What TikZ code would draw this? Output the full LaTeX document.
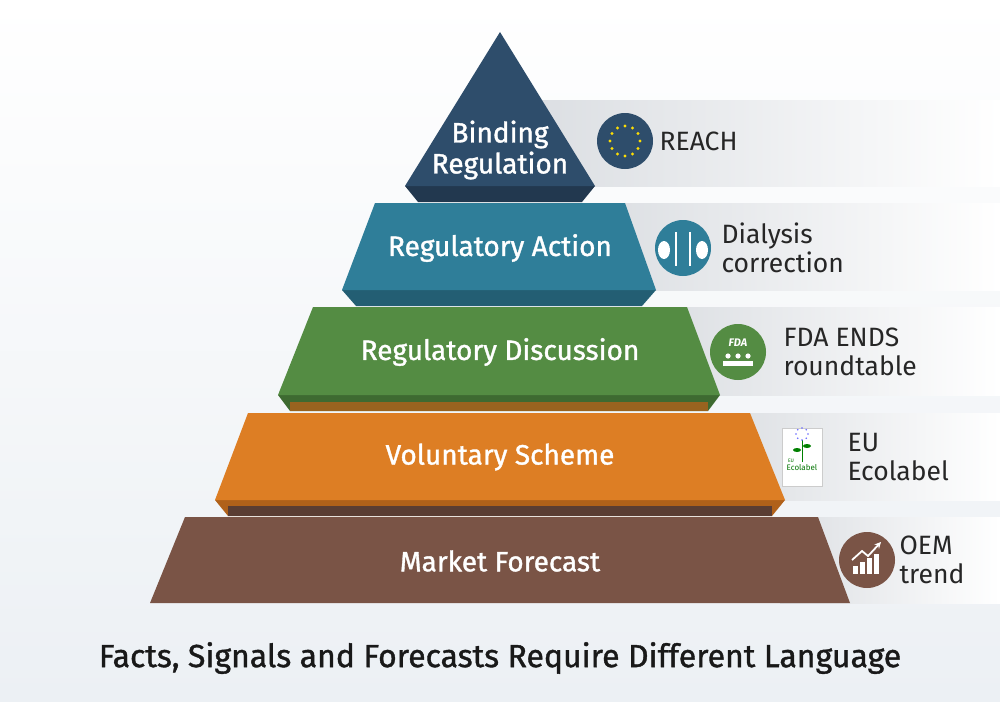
\documentclass[tikz,border=0pt]{standalone}
\usepackage{fontspec}
\setmainfont{Fira Sans}
\newfontfamily\medf{Fira Sans}[AutoFakeBold=1.2]
\usetikzlibrary{shadings}
\definecolor{cA}{HTML}{2E4D6B}\definecolor{cAd}{HTML}{22384F}
\definecolor{cB}{HTML}{2F7E99}\definecolor{cBd}{HTML}{235E73}
\definecolor{cC}{HTML}{548C43}\definecolor{cCd}{HTML}{3E6A31}
\definecolor{cD}{HTML}{DD7E24}\definecolor{cDd}{HTML}{B0611A}
\definecolor{cE}{HTML}{7A5446}\definecolor{cEd}{HTML}{5A3D33}
\definecolor{band}{HTML}{DCDFE3}
\tikzset{
 lay/.style={font=\fontsize{28}{31}\medf\bfseries, text=white, align=center},
 side/.style={font=\fontsize{26.5}{29}\selectfont, text=black!85, align=left, anchor=west},
 ic/.style={circle, minimum size=56pt, inner sep=0pt},
 bandf/.style={left color=band, right color=white},
}
\begin{document}
\begin{tikzpicture}[x=1pt,y=-1pt]
\shade[top color=white, bottom color={rgb,255:red,236;green,240;blue,244}] (0,0) rectangle (1000,701);
\useasboundingbox (0,0) rectangle (1000,701);
% bands
\fill[bandf] (540,100) rectangle (1000,186);
\fill[bandf] (600,203) rectangle (1000,290);
\fill[bandf] (660,307) rectangle (1000,395);
\fill[bandf] (720,413) rectangle (1000,500);
\fill[bandf] (780,517) rectangle (1000,603);
% layer 1
\fill[cAd] (405,186) -- (595,186) -- (582,202) -- (418,202) -- cycle;
\fill[cA] (500,32) -- (595,186) -- (405,186) -- cycle;
% layer 2
\fill[cBd] (342,290) -- (656,290) -- (642,306) -- (356,306) -- cycle;
\fill[cB] (375,203) -- (625,203) -- (656,290) -- (342,290) -- cycle;
% layer 3
\fill[cCd] (278,395) -- (720,395) -- (708,411) -- (290,411) -- cycle;
\fill[cDd!80!cCd] (290,402) -- (708,402) -- (708,411) -- (290,411) -- cycle;
\fill[cC] (313,307) -- (687,307) -- (720,395) -- (278,395) -- cycle;
% layer 4
\fill[cDd] (215,500) -- (785,500) -- (772,516) -- (228,516) -- cycle;
\fill[cEd] (228,506) -- (772,506) -- (772,516) -- (228,516) -- cycle;
\fill[cD] (248,413) -- (750,413) -- (785,500) -- (215,500) -- cycle;
% layer 5
\fill[cE] (185,517) -- (818,517) -- (850,603) -- (150,603) -- cycle;
% labels
\node[lay] (l1) at (500,150) {Binding\\Regulation};
\node[lay] (l2) at (500,248) {Regulatory Action};
\node[lay] (l3) at (500,352) {Regulatory Discussion};
\node[lay] (l4) at (500,457) {Voluntary Scheme};
\node[lay] (l5) at (500,561) {Market Forecast};
% icons
\node[ic, fill=cA] (i1) at (625,141) {};
\foreach \a in {0,30,...,330}
  \fill[yellow!80!orange] (625,141) ++(\a:15) circle (1.6);
\node[side] (t1) at (656,141) {REACH};
\node[ic, fill=cB] (i2) at (683,248) {};
\draw[white, line width=2.5] (676,232) -- (676,266) (690,232) -- (690,266);
\fill[white] (664,250) ellipse (6 and 9) (702,250) ellipse (6 and 9);
\node[side] (t2) at (718,248) {Dialysis\\correction};
\node[ic, fill=cC] (i3) at (738,352) {};
\node[text=white, font=\fontsize{11}{11}\selectfont\bfseries\itshape] at (738,343) {FDA};
\foreach \dx in {-10,0,10} {\fill[white] (738+\dx,356) circle (2.6); \fill[white] (733+\dx,366) rectangle (743+\dx,361);}
\node[side] (t3) at (780,352) {FDA ENDS\\roundtable};
\node[draw=black!20, fill=white, minimum width=40pt, minimum height=58pt, inner sep=0pt] (i4) at (802,457) {};
\node[text=green!45!black, font=\fontsize{8}{8}\selectfont] at (802,468) {Ecolabel};
\draw[green!50!black, line width=1] (802,462) -- (802,440);
\fill[green!50!black] (797,450) ellipse (4 and 2) (807,446) ellipse (4 and 2);
\foreach \a in {0,45,...,315} \fill[blue!60] (802,434) ++(\a:6) circle (0.8);
\node[text=green!45!black, font=\fontsize{5}{5}\selectfont] at (791,461) {EU};
\node[side] (t4) at (844,457) {EU\\Ecolabel};
\node[ic, fill=cE] (i5) at (867,560) {};
\foreach \i/\h in {0/8,1/12,2/16,3/20} \fill[white] (853+\i*7,574-\h) rectangle (858+\i*7,574);
\draw[white, line width=1.8, -stealth] (852,560) -- (862,551) -- (868,556) -- (881,542);
\node[side] (t5) at (896,560) {OEM\\trend};
\node[font=\fontsize{32}{35}\medf\bfseries, text=black!90] (title) at (500,658) {Facts, Signals and Forecasts Require Different Language};
\end{tikzpicture}
\end{document}
